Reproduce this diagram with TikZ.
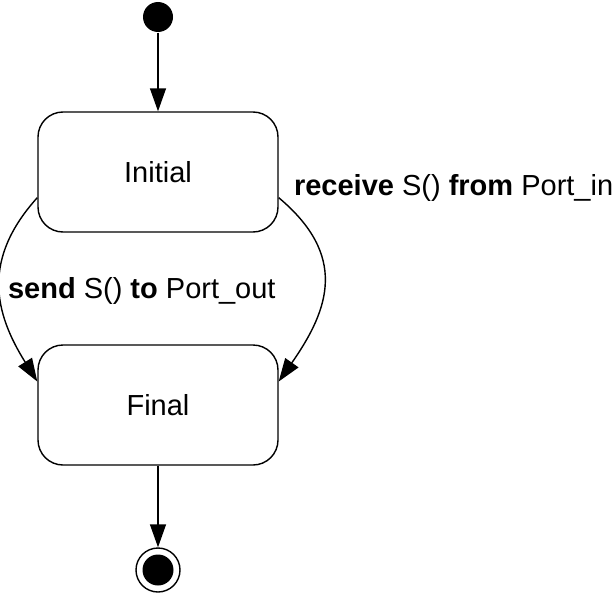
\documentclass[tikz,border=0pt]{standalone}
\usepackage{fontspec}
\setmainfont{Liberation Sans}
\usetikzlibrary{arrows.meta}
\tikzset{
	x=1pt, y=-1pt,
	every picture/.style={line width=1.4pt},
	statebox/.style={draw, rounded corners=25pt, minimum width=240pt, minimum height=120pt},
	every edge/.style={draw,-{Triangle[length=23pt,width=16pt]}},
	lbl/.style={font=\fontsize{29}{35}\selectfont}
}

\begin{document}
\begin{tikzpicture}[font=\fontsize{29}{35}\selectfont]
\useasboundingbox (0,0) rectangle (613,594);
\node (start) [circle,fill=black,minimum size=30pt,inner sep=0pt] at (158,17) {};
\node (init) [statebox] at (158,172) {Initial};
\node (fin) [statebox] at (158,405) {Final};
\node (stop) [circle,draw,minimum size=44pt,inner sep=0pt] at (158,570) {};
\node (stopdot) [circle,fill=black,minimum size=31pt,inner sep=0pt] at (158,570) {};
\node (sendlbl) [lbl,anchor=west] at (4,291) {\textbf{send} S() \textbf{to} Port\_out};
\node (recvlbl) [lbl,anchor=west] at (290,188) {\textbf{receive} S() \textbf{from} Port\_in};
\draw (start) edge (init.north);
\draw (fin.south) edge (stop.north);
\draw (init.192) edge[out=228,in=122,looseness=1.15] (fin.169);
\draw (init.-12) edge[out=-40,in=55,looseness=1.25] (fin.11);
\end{tikzpicture}
\end{document}
